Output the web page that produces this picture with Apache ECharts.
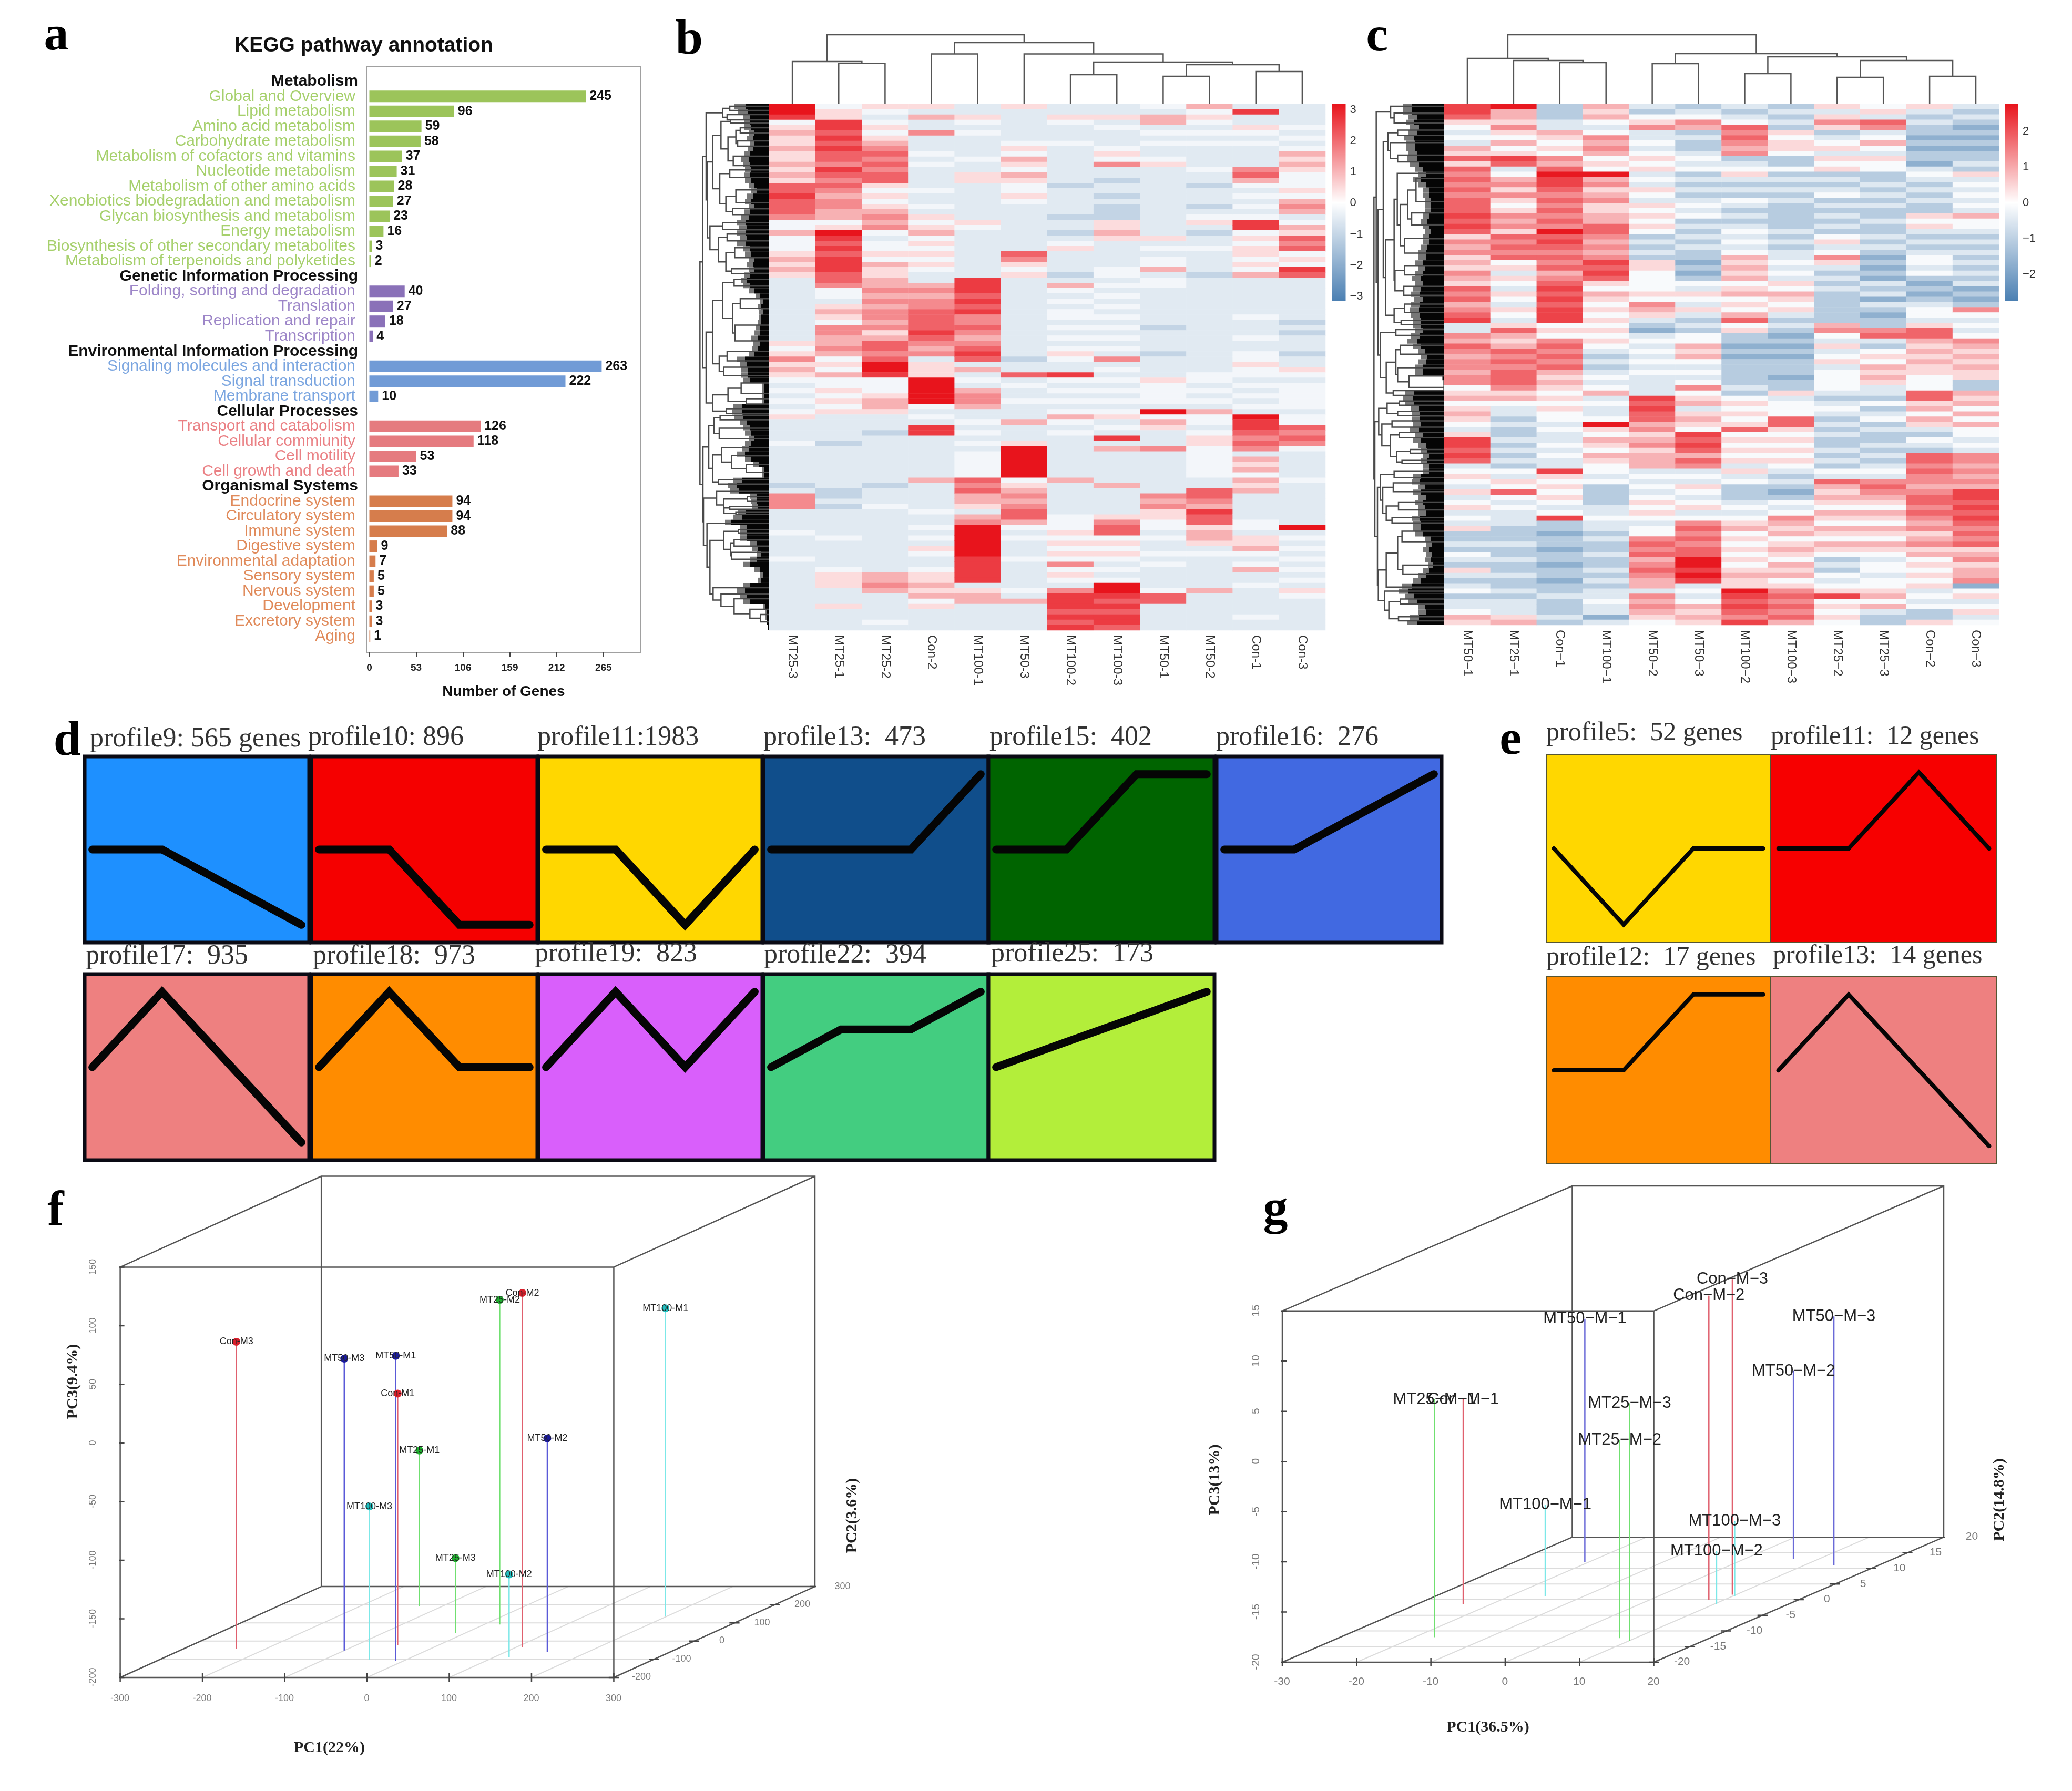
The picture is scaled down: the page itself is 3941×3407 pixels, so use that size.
<!DOCTYPE html>
<html><head><meta charset="utf-8">
<style>html,body{margin:0;background:#fff}#c{width:3941px;height:3407px}</style>
<script src="https://cdn.jsdelivr.net/npm/echarts@6/dist/echarts.min.js"></script>
</head><body><div id="c"></div>
<script>
// ---------- panel a ----------
const metabolismNames=['Global and Overview','Lipid metabolism','Amino acid metabolism','Carbohydrate metabolism','Metabolism of cofactors and vitamins','Nucleotide metabolism','Metabolism of other amino acids','Xenobiotics biodegradation and metabolism','Glycan biosynthesis and metabolism','Energy metabolism','Biosynthesis of other secondary metabolites','Metabolism of terpenoids and polyketides'];
const metabolismValues=[245,96,59,58,37,31,28,27,23,16,3,2];
const geneticNames=['Folding, sorting and degradation','Translation','Replication and repair','Transcription'];
const geneticValues=[40,27,18,4];
const environmentalNames=['Signaling molecules and interaction','Signal transduction','Membrane transport'];
const environmentalValues=[263,222,10];
const cellularNames=['Transport and catabolism','Cellular commiunity','Cell motility','Cell growth and death'];
const cellularValues=[126,118,53,33];
const organismalNames=['Endocrine system','Circulatory system','Immune system','Digestive system','Environmental adaptation','Sensory system','Nervous system','Development','Excretory system','Aging'];
const organismalValues=[94,94,88,9,7,5,5,3,3,1];
const keggHeaders=['Metabolism','Genetic Information Processing','Environmental Information Processing','Cellular Processes','Organismal Systems'];
const keggTicks=[0,53,106,159,212,265];

// ---------- panels b, c: one string per column, one character per row (level of the row's z-score) ----------
const bColumns=['MT25-3','MT25-1','MT25-2','Con-2','MT100-1','MT50-3','MT100-2','MT100-3','MT50-1','MT50-2','Con-1','Con-3'];
const bLevelValues=[-1.5,-1,-0.5,-0.2,0.45,1,1.5,2,2.5,3];
const b_MT25_3 ="9983454454 4545477877 7633533345 4542222222 2222243464 5432323234 2222322222 2212666222 2322223222 2222222222";
const b_MT25_1 ="3448878787 7687676566 5534987878 8877633245 4366556534 3533434342 2222122222 2221121222 2232222234 4422242222";
const b_MT25_2 ="4323434567 6767743434 5656323343 5445565656 6564577679 9833345542 2212222222 2212223222 2222222225 5652222232";
const b_Con_2  ="4252262223 2322223223 2434534343 4322565667 7778765624 4499999323 2882222222 2522222322 3232432234 4545342222";
const b_MT100_1="2243232222 3224422222 2243222222 2228887878 6676567872 5232566522 3232323333 3767554256 9999998888 8245522222";
const b_MT50_3 ="4222222343 5435433432 2222222276 4342222222 2222222212 2723223222 5222499999 9345656775 3232223222 2232522222";
const b_MT100_2="2243222322 2222212222 2122123422 2212532323 3232323432 2832323235 3232222222 2522222233 3434343634 3268887878";
const b_MT100_3="2242322234 3622122121 1144542222 2332323232 3232323262 3232323234 2328252222 2252222246 7734343232 3998787887";
const b_MT50_1 ="3255232322 3422222222 2222242323 3523322222 2212222122 2243333293 5422262222 2222656443 3232232322 2237722222";
const b_MT50_2 ="5343232322 2232212221 2342122322 2212222222 2222222222 2332323253 3234433333 3227765877 4554232222 2252222222";
const b_Con_1  ="2822432322 2267532323 2388343443 4352222222 3222322334 3323232329 8876762545 3545222223 3244532352 2322222322";
const b_Con_3  ="2222323235 4543334356 5235476734 3872222222 2121222122 4323333323 3767632222 2322222222 9232323232 3243222222";
const bMatrix=[b_MT25_3,b_MT25_1,b_MT25_2,b_Con_2,b_MT100_1,b_MT50_3,b_MT100_2,b_MT100_3,b_MT50_1,b_MT50_2,b_Con_1,b_Con_3];

const cColumns=['MT50−1','MT25−1','Con−1','MT100−1','MT50−2','MT50−3','MT100−2','MT100−3','MT25−2','MT25−3','Con−2','Con−3'];
const cLevelValues=[-1.7,-1.1,-0.5,-0.1,0.45,0.9,1.35,1.8,2.2,2.7];
const c_MT50_1 ="8874323254 7476767677 7878746564 5465476756 7822657656 6566345345 4324887872 3432423423 2411213214 2123122354";
const c_MT25_1 ="9554643534 8723564643 4656476767 3424324324 3247545767 6777645322 1211212121 3243732322 2111211211 2112122245";
const c_Con_1  ="1112254343 6579887676 7676978767 6756787878 8834367676 7545434343 3232232322 8434343238 1101101101 1011211121";
const c_MT100_1="5453236565 3439564564 4557765656 8787435434 3434343212 1232352322 3943543543 3231111223 2212112112 1212232202";
const c_MT50_2 ="2134622323 4342324324 3434312121 4433334365 4210232323 2322228787 7564564555 2323234343 2336767567 6552656543";
const c_MT50_3 ="1236512112 3231212123 2312121211 0101324324 2121335453 2323634524 5438787576 2324323423 6767677998 9823235454";
const c_MT100_2="2123767656 1234212132 1212323235 4545345343 5734110101 1111213434 3473434342 4231112323 4534343434 5449878768";
const c_MT100_3="1212143443 1131212121 1111212122 3232435434 2121010101 1101142333 7743434343 2121013236 5453454354 5346767675";
const c_MT25_2 ="4246412342 4341212312 1212134236 4212121111 1156324234 2333321232 1212112121 3275454354 3543543121 3234834343";
const c_MT25_3 ="3427623532 4331121212 1121121210 1010212021 0116721343 5454221312 3121121212 3267654354 3543543233 2334535211";
const c_Con_2  ="4212110101 1023212121 1434212123 3231010123 3247754545 4433377453 5421321776 7665677676 5645645343 4342323114";
const c_Con_3  ="2121010101 1214232323 2533212121 2121201016 3232365454 5441154535 3533232665 6565887878 7676745645 5603423423";
const cMatrix=[c_MT50_1,c_MT25_1,c_Con_1,c_MT100_1,c_MT50_2,c_MT50_3,c_MT100_2,c_MT100_3,c_MT25_2,c_MT25_3,c_Con_2,c_Con_3];

// dendrograms: [left, right, height]; a leaf is a column (top) or a row position (left)
const bTopTree=[[0,[1,2,77.5],81],[[3,4,95.6],[5,[[6,7,56],[[8,9,53],[10,11,62],75],80],95.6],117],132];
const cTopTree=[[0,[1,[2,3,79],83],87],[[4,5,77],[[6,7,58],[[8,9,51],[10,11,53],83],90],96],132];
const bA1=[[[0.4,1.2,205],[2,3,190],165],[[[[3,3.6,210],[[[4.5,5.5,265],[7,8,250],240],[9.9,11.7,225],195],155],[[12.5,13.9,205],[[16.3,18.7,240],[19.8,21,222],183],148],108],[[22.5,23.8,165],[[24.7,26,190],[[27.3,29.2,233],[31.3,32.2,215],183],140],92],78],70];
const bA2=[[[[33.3,34.6,230],[[37,38.8,265],[42,45,235],222],165],[[47,48.8,190],[50,51.6,170],145],108],[[[53,55,270],[56,57,300],195],[57.9,58.8,185],108],70];
const bB1=[[[59.2,60,150],[61.6,63.6,145],115],[[65.3,[66.8,[68.5,70,300],215],158],[71.4,72.2,140],108],85];
const bB2=[[73.6,[[74.6,75.5,305],[[76.5,77,205],[77.6,78,240],172],170],130],[79.7,[[[80.9,81.5,255],[[82.8,84,230],[85.2,86.5,215],210],170],[91.9,[93.1,[94,[96,[97,98.4,380],320],230],155],110],92],75],55];
const bLeftTree=[[bA1,bA2,50],[bB1,bB2,52],35];
const cV1=[[[5,6,160],[7.4,[9.8,11.1,160],118],105],[[[13.3,[[[14.3,18.7,265],[20.9,23.2,240],218],[25.8,28.6,200],175],158],[[31,32.8,200],[35,36.7,195],145],140],[[38.4,40,200],[41.5,42.3,180],140],92],78];
const cV2=[[43.3,44.4,150],[[[46.3,48,175],[50.6,[52.2,54.4,225],160],150],[55,55.9,135],95],62];
const cC=[[[57,57.8,170],[59,59.8,160],100],[[60.8,62,128],[[63,64,170],[[66.3,67,232],[68.4,69,185],155],118],70],52];
const cE=[[70.5,71.7,140],[[72.7,74.4,135],[[76.4,77.9,165],[79.4,80.4,128],95],75],62];
const cF=[[[[82,84,185],[88.5,90.2,190],160],92.7,95],[93.5,[[95,96,175],[98.4,99.2,165],110],85],50];
const cLeftTree=[[[0.4,[1.7,3.6,140],120],[cV1,cV2,48],38],[cC,[cE,cF,45],30],25];
// how far the solid black leaf mass of the row dendrogram reaches, per row; the grey halo reaches further
const bFringe=[44,40,36,36,34,28,30,28,30,36,38,36,34,36,34,28,24,30,34,28,36,38,44,42,44,42,44,36,34,28,30,28,36,42,36,28,18,12,15,12,15,15,18,18,22,18,22,28,46,42,40,40,36,10,10,10,10,52,52,50,42,36,34,28,34,38,46,34,20,10,10,52,62,58,24,24,22,44,52,72,42,42,42,24,22,15,24,36,18,12,15,36,46,42,36,8,5,5,4,2];
const bHalo=[66,60,50,48,48,38,42,36,40,48,54,50,46,48,46,38,34,42,46,38,48,54,62,58,62,56,62,50,46,38,42,38,48,54,50,38,26,18,22,20,20,22,26,28,34,30,32,38,62,56,54,54,50,14,14,14,14,68,70,66,56,50,46,38,46,52,62,46,30,14,14,68,78,74,36,34,32,60,68,84,56,56,56,36,32,24,36,50,28,18,22,50,62,56,50,12,8,8,5,3];
const cFringe=[62,62,52,57,48,52,57,55,55,52,52,48,40,35,44,35,29,29,26,26,26,29,32,29,26,29,29,32,35,35,40,37,40,44,40,44,46,40,46,48,46,44,44,40,46,52,44,37,32,35,40,40,2,1,1,57,60,57,48,46,46,44,48,40,44,35,32,29,32,29,29,44,46,37,44,35,40,37,35,46,44,44,40,26,23,29,23,26,21,29,35,44,62,68,57,52,37,35,48,52];
const cHalo=[78,78,68,72,65,68,76,72,72,68,70,65,56,50,60,50,40,40,36,36,36,40,44,40,36,40,40,44,50,50,56,50,56,62,56,60,64,58,64,66,64,60,60,56,64,70,60,50,44,50,56,56,4,2,2,74,78,74,64,62,62,60,66,56,60,50,44,40,44,40,40,60,62,50,60,50,56,50,50,62,60,60,56,36,34,40,34,36,30,40,50,60,80,86,74,68,50,50,66,70];

// ---------- panels d, e ----------
const dTitles1=['profile9: 565 genes','profile10: 896','profile11:1983','profile13:  473','profile15:  402','profile16:  276'];
const dValues1=[[0,0,-1,-2],[0,0,-2,-2],[0,0,-2,0],[0,0,0,2],[0,0,2,2],[0,0,1,2]];
const dTitles2=['profile17:  935','profile18:  973','profile19:  823','profile22:  394','profile25:  173'];
const dValues2=[[0,2,0,-2],[0,2,0,0],[0,2,0,2],[0,1,1,2],[0,0.67,1.33,2]];
const eTitles=['profile5:  52 genes','profile11:  12 genes','profile12:  17 genes','profile13:  14 genes'];
const eValues=[[0,-2,0,0],[0,0,2,0],[0,0,2,2],[0,2,0,-2]];

// ---------- panels f, g: [label, PC1, PC2, PC3] ----------
const fCon=[['Con-M3',-235.5,-43,62],['Con-M1',-50,-21.5,14.5],['Con-M2',107,-32.5,102]];
const fMT25=[['MT25-M1',-127.5,191,-67],['MT25-M3',-11.5,43.5,-136],['MT25-M2',19,91,77]];
const fMT50=[['MT50-M3',-100,-52,49],['MT50-M1',-10,-108,60],['MT50-M2',150,-58.5,-18]];
const fMT100=[['MT100-M3',-44,-104,-69],['MT100-M2',117.5,-87,-129.6],['MT100-M1',198,137,62.6]];
const gCon=[['Con−M−1',-23.7,-1.5,0.43],['Con−M−2',7.9,0,10.3],['Con−M−3',9.5,1.6,11.44]];
const gMT25=[['MT25−M−1',-17.3,-12,3.7],['MT25−M−3',10.1,-13.2,3.66],['MT25−M−2',7.9,-12.3,-0.28]];
const gMT50=[['MT50−M−1',-20.5,12,4.25],['MT50−M−2',6.6,13,-1.26],['MT50−M−3',13.9,11.1,4.76]];
const gMT100=[['MT100−M−1',-15.1,1,-10.85],['MT100−M−3',10.4,1,-12.5],['MT100−M−2',10.4,-1.5,-14.7]];
const fPC1Ticks=[-300,-200,-100,0,100,200,300], fPC2Ticks=[-200,-100,0,100,200,300], fPC3Ticks=[-200,-150,-100,-50,0,50,100,150];
const gPC1Ticks=[-30,-20,-10,0,10,20], gPC2Ticks=[-20,-15,-10,-5,0,5,10,15,20], gPC3Ticks=[-20,-15,-10,-5,0,5,10,15];

// ---------- builders ----------
const SANS='"Liberation Sans",Arial,sans-serif', SERIF='"Liberation Serif","Times New Roman",serif';
const grid=[],xAxis=[],yAxis=[],series=[],visualMap=[],graphic=[];
function addGrid(rect,gridExtra,xa,ya){
  const i=grid.length;
  grid.push(Object.assign({left:rect[0],top:rect[1],width:rect[2],height:rect[3],containLabel:false},gridExtra||{}));
  xAxis.push(Object.assign({type:'value',gridIndex:i,show:false,splitLine:{show:false}},xa||{}));
  yAxis.push(Object.assign({type:'value',gridIndex:i,show:false,splitLine:{show:false}},ya||{}));
  return i;
}
function text(str,x,y,o){
  o=o||{};
  graphic.push({type:'text',x,y,rotation:o.rot||0,silent:true,z:50,style:{text:str,fill:o.color||'#000',
    fontSize:o.size,fontFamily:o.family||SERIF,fontWeight:o.weight||'normal',
    textAlign:o.align||'center',textVerticalAlign:'middle',align:o.align||'center',verticalAlign:'middle'}});
}
function lineSeries(i,data,color,width,extra){
  series.push(Object.assign({type:'line',xAxisIndex:i,yAxisIndex:i,data,showSymbol:false,symbol:'none',silent:true,connectNulls:false,
    lineStyle:{color,width,cap:'butt',join:'miter'},clip:false},extra||{}));
}
const GAP=['-','-'];

// panel a
const kegg=[[keggHeaders[0],metabolismNames,metabolismValues,'#9cc45a','#a6d06c'],
 [keggHeaders[1],geneticNames,geneticValues,'#8a71b8','#9d86c8'],
 [keggHeaders[2],environmentalNames,environmentalValues,'#719bd6','#7aa5e0'],
 [keggHeaders[3],cellularNames,cellularValues,'#e57b7f','#ea8084'],
 [keggHeaders[4],organismalNames,organismalValues,'#d67d4c','#e08a5a']];
const aCats=[],aBars=[],rich={h:{fontSize:30,fontWeight:'bold',color:'#111',fontFamily:SANS}},aStyle={};
kegg.forEach((g,gi)=>{
  aCats.push(g[0]);aBars.push(null);aStyle[g[0]]='h';
  rich['g'+gi]={fontSize:30,color:g[4],fontFamily:SANS,padding:[0,5,0,0]};
  g[1].forEach((n,k)=>{aCats.push(n);aStyle[n]='g'+gi;aBars.push({value:g[2][k],itemStyle:{color:g[3]}});});
});
addGrid([697,126.6,522,1114.4],{show:true,borderColor:'#a0a0a0',borderWidth:2,backgroundColor:'#fff'},
 {show:true,min:-3.27,max:307.4,position:'bottom',axisLine:{show:false},
  axisTick:{show:true,length:8,lineStyle:{color:'#444',width:2},customValues:keggTicks},
  axisLabel:{show:true,customValues:keggTicks,fontSize:19,fontWeight:'bold',color:'#222',fontFamily:SANS,margin:20}},
 {min:0,max:1});
const aI=addGrid([697,140.5,522,1084],{}, {min:-3.27,max:307.4},
 {type:'category',show:true,inverse:true,data:aCats,axisLine:{show:false},axisTick:{show:false},
  axisLabel:{interval:0,margin:16,formatter:v=>'{'+aStyle[v]+'|'+v+'}',rich}});
series.push({type:'bar',xAxisIndex:aI,yAxisIndex:aI,data:aBars,barWidth:22,silent:true,
  label:{show:true,position:'right',distance:7,fontSize:25,fontWeight:'bold',color:'#111',fontFamily:SANS}});
text('KEGG pathway annotation',692,87,{size:39,weight:'bold',family:SANS,color:'#111'});
text('Number of Genes',958,1316,{size:28,weight:'bold',family:SANS,color:'#111'});

// heat panels
function topSegs(node,out){
  if(typeof node==='number') return {p:node+0.5,h:0};
  const a=topSegs(node[0],out),b=topSegs(node[1],out),H=node[2];
  out.push([a.p,a.h],[a.p,H],[b.p,H],[b.p,b.h],GAP);
  return {p:(a.p+b.p)/2,h:H};
}
function leftSegs(node,out,edge){
  if(typeof node==='number') return {p:node,h:0};
  const a=leftSegs(node[0],out,edge),b=leftSegs(node[1],out,edge),H=(edge-node[2])/3;
  out.push([a.h,a.p],[H,a.p],[H,b.p],[b.h,b.p],GAP);
  return {p:(a.p+b.p)/2,h:H};
}
function heatPanel(c){
  const rows=100,[L,T,W,H]=c.rect;
  const data=[];
  c.matrix.forEach((col,ci)=>{
    const s=col.replace(/\s/g,'');
    for(let r=0;r<rows;r++) data.push([ci,r,c.levels[+s[r]]]);
  });
  const hi=addGrid(c.rect,{},
    {type:'category',show:true,data:c.columns,axisLine:{show:false},axisTick:{show:false},
     axisLabel:{interval:0,rotate:-90,margin:9,fontSize:24,color:'#333',fontFamily:SANS}},
    {type:'category',inverse:true,data:Array.from({length:rows},(_,i)=>i)});
  series.push({type:'heatmap',xAxisIndex:hi,yAxisIndex:hi,data,silent:true,progressive:0});
  visualMap.push({type:'continuous',show:false,seriesIndex:series.length-1,dimension:2,min:-c.vmax,max:c.vmax,inRange:{color:['#4a7fb2','#ffffff','#e8141c']}});
  // top dendrogram
  const seg=[];topSegs(c.topTree,seg);
  const ti=addGrid([L,T-134,W,134],{},{min:0,max:12},{min:0,max:134});
  lineSeries(ti,seg,'#555',2.5);
  // row dendrogram: grey halo + black mass + branches
  const fi=addGrid([L-c.leftW,T,c.leftW,H],{},{inverse:true,min:0,max:c.leftW},
    {type:'category',inverse:true,data:Array.from({length:rows},(_,i)=>i)});
  series.push({type:'bar',xAxisIndex:fi,yAxisIndex:fi,data:c.halo,barCategoryGap:0,barGap:'-100%',barWidth:'100%',silent:true,itemStyle:{color:'#777777'}});
  series.push({type:'bar',xAxisIndex:fi,yAxisIndex:fi,data:c.fringe,barCategoryGap:0,barGap:'-100%',barWidth:'100%',silent:true,itemStyle:{color:'#050505'}});
  const li=addGrid([L-c.leftW,T,c.leftW,H],{},{inverse:true,min:0,max:c.leftW},{inverse:true,min:0,max:rows});
  const ls=[];leftSegs(c.leftTree,ls,c.edge);
  lineSeries(li,ls,'#4a4a4a',2.5);
  // colour bar
  addGrid(c.bar,{show:true,borderWidth:0,backgroundColor:{type:'linear',x:0,y:0,x2:0,y2:1,colorStops:[{offset:0,color:'#e8141c'},{offset:0.5,color:'#ffffff'},{offset:1,color:'#4a7fb2'}]}},
    {min:0,max:1},
    {show:true,position:'right',min:c.barMin,max:c.barMax,axisLine:{show:false},axisTick:{show:false},
     axisLabel:{show:true,customValues:c.barTicks,fontSize:c.barFont,color:'#333',fontFamily:SANS,margin:c.barMargin,formatter:v=>(v<0?'−':'')+Math.abs(v)}});
}
heatPanel({rect:[1463,198,1058,1001],columns:bColumns,matrix:bMatrix,levels:bLevelValues,vmax:3,topTree:bTopTree,leftTree:bLeftTree,fringe:bFringe,halo:bHalo,edge:430,leftW:140,
  bar:[2533,198,26.5,375],barMin:-3.15,barMax:3.18,barTicks:[-3,-2,-1,0,1,2,3],barFont:22,barMargin:8});
heatPanel({rect:[2747,198,1055,991],columns:cColumns,matrix:cMatrix,levels:cLevelValues,vmax:2.75,topTree:cTopTree,leftTree:cLeftTree,fringe:cFringe,halo:cHalo,edge:426,leftW:142,
  bar:[3814,198,25,375],barMin:-2.75,barMax:2.76,barTicks:[-2,-1,0,1,2],barFont:22,barMargin:8});

// profile panels
function profile(rect,color,vals,bw,bc,lw){
  const i=addGrid(rect,{show:true,backgroundColor:color,borderColor:bc,borderWidth:bw},{min:-0.11,max:3.11},{min:-2.47,max:2.47});
  lineSeries(i,vals.map((v,k)=>[k,v]),'#050505',lw,{lineStyle:{color:'#050505',width:lw,cap:'round',join:'miter'}});
}
const dCols1=[[161,427],[592,430],[1024,426],[1452,428],[1880,430],[2314,428]];
const dFill1=['#1e90ff','#f50000','#ffd700','#104e8b','#006400','#4169e1'];
const dCols2=dCols1.slice(0,5);
const dFill2=['#ee8080','#ff8c00','#d95ffb','#43cd80','#b3ee3a'];
dValues1.forEach((v,k)=>profile([dCols1[k][0],1439,dCols1[k][1],354],dFill1[k],v,7,'#0a0a14',15));
dValues2.forEach((v,k)=>profile([dCols2[k][0],1853,dCols2[k][1],354],dFill2[k],v,7,'#0a0a14',15));
const eRects=[[2941,1435,427,358],[3368,1435,430,358],[2941,1858,427,356],[3368,1858,430,356]];
const eFill=['#ffd700','#f70000','#ff8c00','#ee8080'];
eValues.forEach((v,k)=>profile(eRects[k],eFill[k],v,2,'#553',8));
const dT1X=[[171,1406],[586,1403],[1022,1403],[1452,1403],[1882,1403],[2313,1403]];
dTitles1.forEach((t,k)=>text(t,dT1X[k][0],dT1X[k][1],{size:52,align:'left',color:'#333'}));
const dT2X=[[163,1819],[595,1819],[1017,1815],[1453,1817],[1885,1815]];
dTitles2.forEach((t,k)=>text(t,dT2X[k][0],dT2X[k][1],{size:52,align:'left',color:'#333'}));
const eTX=[[2941,1395],[3368,1402],[2941,1822],[3372,1819]];
eTitles.forEach((t,k)=>text(t,eTX[k][0],eTX[k][1],{size:50,align:'left',color:'#333'}));

// 3D panels (oblique projection, as scatterplot3d draws it)
function panel3D(c){
  const [xa,xb]=c.xr,[ya,yb]=c.yr,[za,zb]=c.zr;
  const pxX=(c.front[1]-c.front[0])/(xb-xa), pxZ=(c.frontY[0]-c.frontY[1])/(zb-za);
  const depthX=(c.back[0]-c.front[0])/pxX, depthZ=(c.frontY[0]-c.backY[0])/pxZ;
  const P=(x,y,z)=>{const t=(y-ya)/(yb-ya);return [x+t*depthX,z+t*depthZ];};
  const i=addGrid([c.front[0],c.backY[1],c.back[1]-c.front[0],c.frontY[0]-c.backY[1]],{},
    {min:xa,max:xb+depthX},{min:za,max:zb+depthZ});
  // floor grid
  const fl=[];
  c.xt.slice(1,-1).forEach(v=>fl.push(P(v,ya,za),P(v,yb,za),GAP));
  c.yt.slice(1,-1).forEach(v=>fl.push(P(xa,v,za),P(xb,v,za),GAP));
  lineSeries(i,fl,'#dcdcdc',2);
  // box
  const box=[P(xa,ya,za),P(xb,ya,za),P(xb,ya,zb),P(xa,ya,zb),P(xa,ya,za),GAP,
    P(xa,yb,za),P(xb,yb,za),P(xb,yb,zb),P(xa,yb,zb),P(xa,yb,za),GAP,
    P(xa,ya,za),P(xa,yb,za),GAP,P(xb,ya,za),P(xb,yb,za),GAP,P(xa,ya,zb),P(xa,yb,zb),GAP,P(xb,ya,zb),P(xb,yb,zb),GAP];
  lineSeries(i,box,'#555',2.5);
  // ticks
  const tk=[];
  const dx=8/pxX,dz=8/pxZ;
  c.xt.forEach(v=>{const p=P(v,ya,za);tk.push([p[0],p[1]-dz],[p[0],p[1]+dz],GAP);});
  c.zt.forEach(v=>{const p=P(xa,ya,v);tk.push([p[0]-dx,p[1]],[p[0]+dx,p[1]],GAP);});
  c.yt.forEach(v=>{const p=P(xb,v,za);tk.push([p[0]-dx*1.2,p[1]],[p[0]+dx*1.2,p[1]],GAP);});
  lineSeries(i,tk,'#444',2.5);
  // tick labels
  const labelSeries=(arr,pos,rot)=>series.push({type:'scatter',xAxisIndex:i,yAxisIndex:i,silent:true,symbolSize:1,
    itemStyle:{color:'rgba(0,0,0,0)'},data:arr.map(a=>({value:a[0],name:String(a[1])})),
    label:{show:true,formatter:'{b}',position:pos,rotate:rot,align:'center',verticalAlign:'middle',fontSize:c.tickFont,color:'#555',fontFamily:SANS}});
  labelSeries(c.xt.map(v=>[P(v,ya,za),v]),[0,c.xOff],0);
  labelSeries(c.zt.map(v=>[P(xa,ya,v),v]),[-c.zOff,0],90);
  labelSeries(c.yt.map(v=>[P(xb,v,za),v]),[c.yOff,0],0);
  // samples
  c.groups.forEach(g=>{
    const st=[];g.pts.forEach(p=>st.push(P(p[1],p[2],p[3]),P(p[1],p[2],za),GAP));
    lineSeries(i,st,g.stem,2.5);
    series.push({type:'scatter',xAxisIndex:i,yAxisIndex:i,silent:true,symbolSize:c.dot,itemStyle:{color:g.dot,opacity:1},z:5,
      data:g.pts.map(p=>({value:P(p[1],p[2],p[3]),name:p[0]})),
      label:{show:true,formatter:'{b}',position:'inside',fontSize:c.labelFont,color:'#222',fontFamily:SANS}});
  });
}
panel3D({front:[228.6,1167],frontY:[3191,2410],back:[611,1550],backY:[3018,2237.5],xr:[-300,300],yr:[-200,300],zr:[-200,150],
  xt:fPC1Ticks,yt:fPC2Ticks,zt:fPC3Ticks,tickFont:18,labelFont:18,dot:15,xOff:41,zOff:51,yOff:53,
  groups:[{pts:fCon,dot:'#d8202c',stem:'#e0606e'},{pts:fMT25,dot:'#20b030',stem:'#70e070'},{pts:fMT50,dot:'#1a1a9c',stem:'#5a5ad8'},{pts:fMT100,dot:'#20c0c0',stem:'#7ce8e8'}]});
panel3D({front:[2439,3145],frontY:[3162,2493.5],back:[2990,3697],backY:[2924,2256],xr:[-30,20],yr:[-20,20],zr:[-20,15],
  xt:gPC1Ticks,yt:gPC2Ticks,zt:gPC3Ticks,tickFont:21,labelFont:31,dot:1,xOff:38,zOff:49,yOff:54,
  groups:[{pts:gCon,dot:'#d8202c',stem:'#e0606e'},{pts:gMT25,dot:'#20b030',stem:'#70e070'},{pts:gMT50,dot:'#1a1a9c',stem:'#6a6ad8'},{pts:gMT100,dot:'#20c0c0',stem:'#7ce8e8'}]});
text('PC1(22%)',626.5,3325,{size:30,weight:'bold',color:'#222'});
text('PC3(9.4%)',139,2628,{size:30,weight:'bold',color:'#222',rot:Math.PI/2});
text('PC2(3.6%)',1621,2883,{size:30,weight:'bold',color:'#222',rot:Math.PI/2});
text('PC1(36.5%)',2830,3286,{size:30,weight:'bold',color:'#222'});
text('PC3(13%)',2311,2815,{size:30,weight:'bold',color:'#222',rot:Math.PI/2});
text('PC2(14.8%)',3803,2853,{size:30,weight:'bold',color:'#222',rot:Math.PI/2});

// panel letters
[['a',107,70],['b',1311,78],['c',2619,72],['d',128,1412],['e',2873,1410],['f',106,2306],['g',2426,2304]].forEach(l=>
  text(l[0],l[1],l[2],{size:94,weight:'bold',color:'#000'}));

const chart=echarts.init(document.getElementById('c'),null,{renderer:'canvas',width:3941,height:3407});
chart.setOption({animation:false,backgroundColor:'#fff',grid,xAxis,yAxis,series,visualMap,graphic:{elements:graphic}});
</script></body></html>
